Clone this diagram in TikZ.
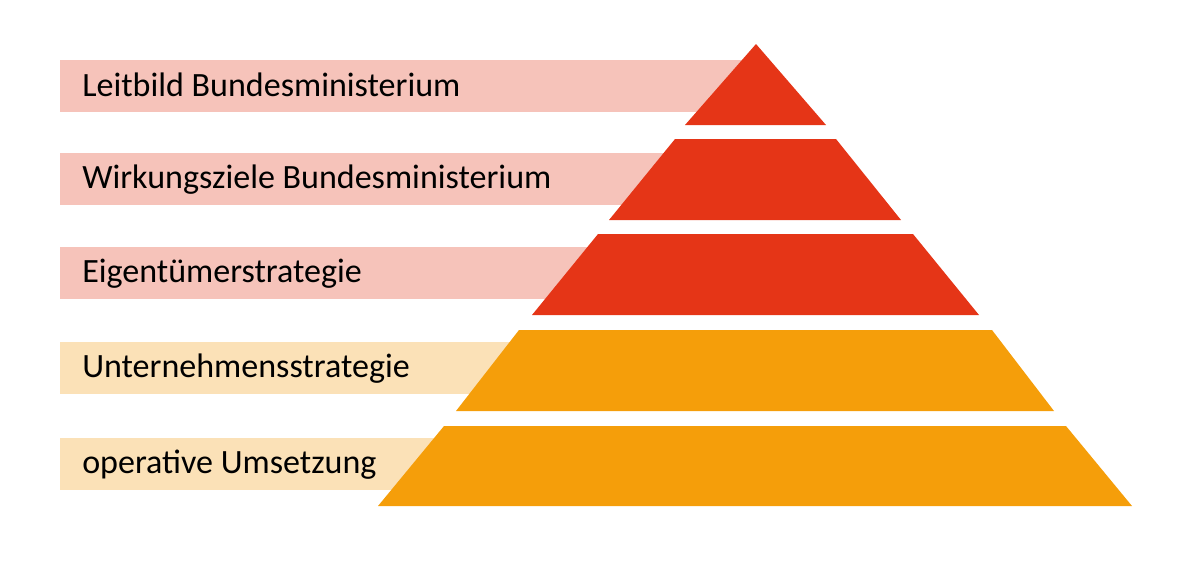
\documentclass[tikz,border=0pt]{standalone}
\usepackage{fontspec}
\setmainfont{Carlito}
\usetikzlibrary{positioning}
\definecolor{topred}{HTML}{E53517}
\definecolor{barred}{HTML}{F6C3BA}
\definecolor{toporange}{HTML}{F59E0A}
\definecolor{barorange}{HTML}{FBE1B7}

\begin{document}
\begin{tikzpicture}[x=0.025cm,y=-0.025cm]
    \tikzstyle{lbl}=[anchor=base west,inner xsep=0.55cm,inner ysep=0pt,font=\fontsize{24.2}{28}\selectfont]
    \useasboundingbox (0,0) rectangle (1200,562);

    % bars behind the pyramid
    \fill[barred] (60,60) rectangle (755,112);
    \fill[barred] (60,153) rectangle (755,205);
    \fill[barred] (60,247) rectangle (755,299);
    \fill[barorange] (60,342) rectangle (755,394);
    \fill[barorange] (60,438) rectangle (755,490);

    % pyramid
    \fill[topred] (756,44) -- (826,125) -- (685,125) -- cycle;
    \fill[topred] (675,139) -- (836,139) -- (901,220) -- (609,220) -- cycle;
    \fill[topred] (598,234) -- (913,234) -- (979,315) -- (532,315) -- cycle;
    \fill[toporange] (519,330) -- (992,330) -- (1054,411) -- (456,411) -- cycle;
    \fill[toporange] (444,426) -- (1066,426) -- (1132,506) -- (378,506) -- cycle;

    \node[lbl] (leitbild) at (60,96) {Leitbild Bundesministerium};
    \node[lbl] (wirkung) at (60,188) {Wirkungsziele Bundesministerium};
    \node[lbl] (eigen) at (60,282) {Eigentümerstrategie};
    \node[lbl] (unternehmen) at (60,377) {Unternehmensstrategie};
    \node[lbl] (operativ) at (60,473) {operative Umsetzung};
\end{tikzpicture}
\end{document}
